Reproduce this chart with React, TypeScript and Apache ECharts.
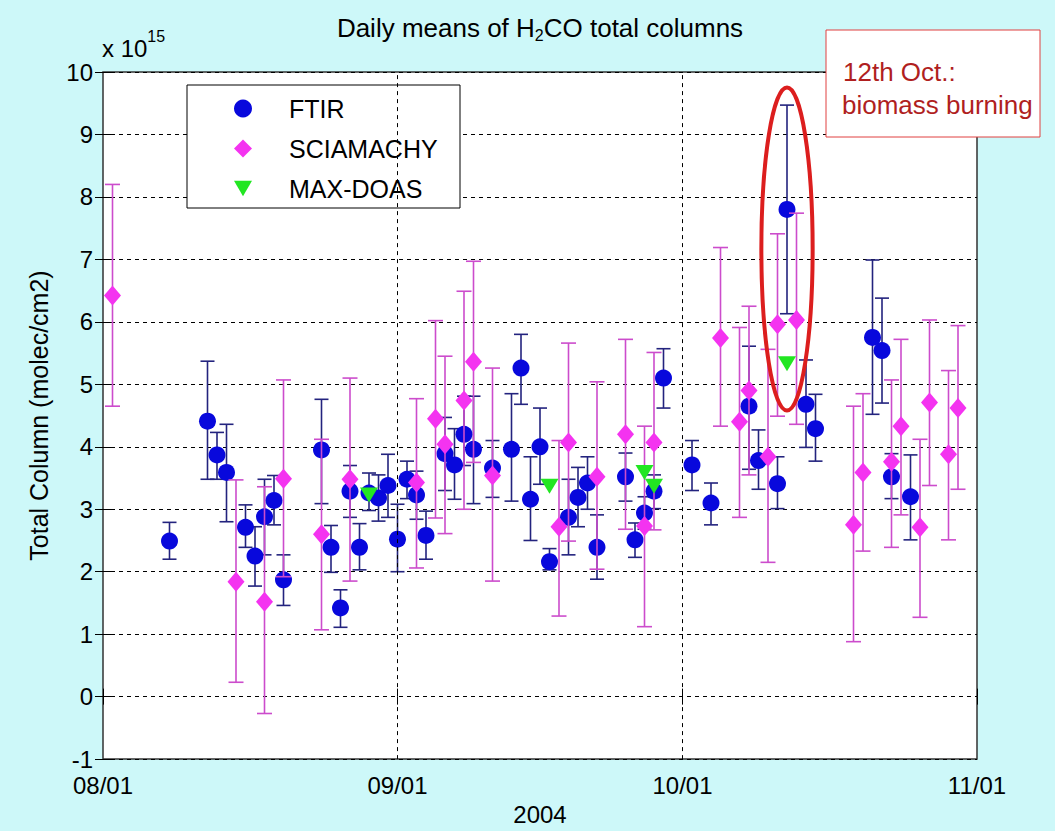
import React, { useEffect, useRef } from 'react';
import * as echarts from 'echarts';

const FONT = '"Liberation Sans", Arial, Helvetica, sans-serif';

// ---- axis / tick data ----
const monthStarts = ['08/01', '09/01', '10/01', '11/01'];
const yMin = -1;
const yMax = 10;
const yStep = 1;

// ---- FTIR (daily means, with error bars) ----
const ftirDates = ['08/08', '08/12', '08/13', '08/14', '08/16', '08/17', '08/18', '08/19', '08/20', '08/24', '08/25', '08/26', '08/27', '08/28', '08/29', '08/30', '08/31', '09/01', '09/02', '09/03', '09/04', '09/06', '09/07', '09/08', '09/09', '09/11', '09/13', '09/14', '09/15', '09/16', '09/17', '09/19', '09/20', '09/21', '09/22', '09/25', '09/26', '09/27', '09/28', '09/29', '10/02', '10/04', '10/08', '10/09', '10/11', '10/12', '10/14', '10/15', '10/21', '10/22', '10/23', '10/25'];
const ftirValues = [2.49, 4.41, 3.87, 3.59, 2.71, 2.25, 2.88, 3.14, 1.87, 3.95, 2.39, 1.42, 3.29, 2.39, 3.26, 3.18, 3.38, 2.52, 3.48, 3.23, 2.58, 3.89, 3.71, 4.2, 3.96, 3.66, 3.96, 5.26, 3.16, 4.0, 2.16, 2.87, 3.19, 3.42, 2.39, 3.52, 2.51, 2.94, 3.29, 5.1, 3.71, 3.1, 4.65, 3.78, 3.41, 7.8, 4.68, 4.29, 5.75, 5.54, 3.52, 3.2];
const ftirLow = [2.2, 3.48, 3.48, 2.8, 2.39, 1.77, 2.27, 2.75, 1.46, 3.09, 1.99, 1.11, 2.87, 2.03, 2.98, 2.81, 2.87, 2.0, 3.17, 2.84, 2.2, 3.3, 3.16, 3.7, 3.09, 3.19, 3.13, 4.68, 2.5, 3.4, 2.03, 2.27, 2.72, 3.0, 1.88, 3.13, 2.23, 2.68, 3.01, 4.62, 3.3, 2.75, 3.64, 3.32, 3.01, 6.13, 3.99, 3.77, 4.52, 4.7, 3.17, 2.51];
const ftirHigh = [2.79, 5.37, 4.23, 4.36, 3.07, 2.72, 3.48, 3.54, 2.27, 4.76, 2.74, 1.71, 3.7, 2.77, 3.58, 3.55, 3.88, 3.08, 3.77, 3.61, 2.97, 4.47, 4.29, 4.81, 4.81, 4.1, 4.85, 5.8, 3.84, 4.62, 2.37, 3.48, 3.67, 3.84, 2.91, 3.9, 2.78, 3.2, 3.55, 5.57, 4.1, 3.42, 5.61, 4.27, 3.84, 9.47, 5.39, 4.84, 6.99, 6.38, 3.89, 3.87];

// ---- SCIAMACHY ----
const sciaDates = ['08/02', '08/15', '08/18', '08/20', '08/24', '08/27', '09/03', '09/05', '09/06', '09/08', '09/09', '09/11', '09/18', '09/19', '09/22', '09/25', '09/27', '09/28', '10/05', '10/07', '10/08', '10/10', '10/11', '10/13', '10/19', '10/20', '10/23', '10/24', '10/26', '10/27', '10/29', '10/30'];
const sciaValues = [6.42, 1.84, 1.52, 3.49, 2.6, 3.48, 3.43, 4.45, 4.04, 4.74, 5.36, 3.54, 2.72, 4.07, 3.52, 4.2, 2.73, 4.07, 5.74, 4.4, 4.9, 3.84, 5.96, 6.03, 2.75, 3.59, 3.76, 4.33, 2.71, 4.71, 3.88, 4.62];
const sciaLow = [4.65, 0.23, -0.27, 1.92, 1.07, 1.85, 2.06, 2.86, 2.61, 3.0, 3.75, 1.85, 1.29, 2.49, 2.04, 2.68, 1.12, 2.67, 4.33, 2.87, 3.55, 2.15, 4.49, 4.36, 0.88, 2.33, 2.39, 2.91, 1.27, 3.38, 2.51, 3.32];
const sciaHigh = [8.2, 3.47, 3.36, 5.07, 4.12, 5.1, 4.77, 6.02, 5.45, 6.49, 6.97, 5.26, 4.1, 5.66, 5.04, 5.72, 4.33, 5.51, 7.19, 5.91, 6.25, 5.56, 7.41, 7.74, 4.65, 4.85, 5.07, 5.72, 4.12, 6.03, 5.22, 5.94];

// ---- MAX-DOAS ----
const doasDates = ['08/29', '09/17', '09/27', '09/28', '10/12'];
const doasValues = [3.23, 3.37, 3.59, 3.37, 5.33];

// ---- highlighted event (12th Oct.) ----
const eventDate = '10/12';
const eventLow = 4.58;
const eventHigh = 9.75;
const eventHalfWidthDays = 2.7;

const seriesNames = ['FTIR', 'SCIAMACHY', 'MAX-DOAS'];

function dayOf(s: string): number {
  const [m, d] = s.split('/').map(Number);
  return Math.round((Date.UTC(2004, m - 1, d) - Date.UTC(2004, 7, 1)) / 86400000);
}

const monthOffsets = monthStarts.map(dayOf);
const TRI = 'path://M0,0 L20,0 L10,17 Z';

function errorBarRenderer(color: string, capHalf: number, width: number) {
  return (params: any, api: any) => {
    const x = api.value(0);
    const lo = api.coord([x, api.value(1)]);
    const hi = api.coord([x, api.value(2)]);
    const style = { stroke: color, lineWidth: width, fill: 'none' };
    return {
      type: 'group',
      children: [
        { type: 'line', shape: { x1: lo[0], y1: lo[1], x2: hi[0], y2: hi[1] }, style },
        { type: 'line', shape: { x1: lo[0] - capHalf, y1: lo[1], x2: lo[0] + capHalf, y2: lo[1] }, style },
        { type: 'line', shape: { x1: hi[0] - capHalf, y1: hi[1], x2: hi[0] + capHalf, y2: hi[1] }, style },
      ],
    };
  };
}

export default function App() {
  const ref = useRef<HTMLDivElement>(null);

  useEffect(() => {
    document.body.style.margin = '0';
    if (!ref.current) return;
    const chart = echarts.init(ref.current, undefined, { renderer: 'svg' });

    const ftirErr = ftirDates.map((d, i) => [dayOf(d), ftirLow[i], ftirHigh[i]]);
    const ftirPts = ftirDates.map((d, i) => [dayOf(d), ftirValues[i]]);
    const sciaErr = sciaDates.map((d, i) => [dayOf(d), sciaLow[i], sciaHigh[i]]);
    const sciaPts = sciaDates.map((d, i) => [dayOf(d), sciaValues[i]]);
    const doasPts = doasDates.map((d, i) => [dayOf(d), doasValues[i]]);
    const eventData = [[dayOf(eventDate), eventLow, eventHigh, eventHalfWidthDays]];

    const xLabel = (v: number) => {
      const i = monthOffsets.indexOf(Math.round(v));
      return i >= 0 ? monthStarts[i] : '';
    };

    const gridDash = { type: [4, 4] as any, color: '#000', width: 1 };

    const option: any = {
      animation: false,
      backgroundColor: '#cdf8f9',
      textStyle: { fontFamily: FONT },
      grid: {
        left: 103, right: 78, top: 72, bottom: 71,
        show: true, backgroundColor: '#ffffff', borderColor: '#333', borderWidth: 1.5,
      },
      xAxis: [
        {
          type: 'value', min: monthOffsets[0], max: monthOffsets[monthOffsets.length - 1],
          position: 'bottom',
          name: '2004', nameLocation: 'middle', nameGap: 37,
          nameTextStyle: { fontSize: 24, color: '#000', fontFamily: FONT },
          axisLine: { show: false },
          axisTick: { show: true, inside: true, length: 8, customValues: monthOffsets, lineStyle: { color: '#000' } },
          axisLabel: { customValues: monthOffsets, formatter: xLabel, fontSize: 24, lineHeight: 22, color: '#000', margin: 15, fontFamily: FONT },
          splitLine: { show: false },
        },
        {
          type: 'value', min: monthOffsets[0], max: monthOffsets[monthOffsets.length - 1],
          position: 'top',
          axisLine: { show: false },
          axisTick: { show: true, inside: true, length: 8, customValues: monthOffsets, lineStyle: { color: '#000' } },
          axisLabel: { show: false },
          splitLine: { show: false },
        },
      ],
      yAxis: [
        {
          type: 'value', min: yMin, max: yMax, interval: yStep, position: 'left',
          name: 'Total Column (molec/cm2)', nameLocation: 'middle', nameGap: 52,
          nameTextStyle: { fontSize: 25, color: '#000', fontFamily: FONT },
          axisLine: { show: false },
          axisTick: { show: true, inside: true, length: 8, lineStyle: { color: '#000' } },
          axisLabel: { fontSize: 24, lineHeight: 20, color: '#000', margin: 10, fontFamily: FONT },
          splitLine: { show: true, lineStyle: gridDash },
        },
        {
          type: 'value', min: yMin, max: yMax, interval: yStep, position: 'right',
          axisLine: { show: false },
          axisTick: { show: true, inside: true, length: 8, lineStyle: { color: '#000' } },
          axisLabel: { show: false },
          splitLine: { show: false },
        },
      ],
      legend: {
        data: [
          { name: seriesNames[0], icon: 'circle' },
          { name: seriesNames[1], icon: 'diamond' },
          { name: seriesNames[2], icon: TRI },
        ],
        orient: 'vertical', left: 234, top: 96, padding: 0,
        itemWidth: 18, itemHeight: 18, itemGap: 15, selectedMode: false,
        textStyle: { fontSize: 25, color: '#000', fontFamily: FONT, lineHeight: 24, padding: [0, 0, 0, 32] },
        z: 6,
      },
      graphic: [
        { type: 'rect', z: 5, shape: { x: 187, y: 85, width: 273, height: 123 }, style: { fill: '#fff', stroke: '#000', lineWidth: 1 } },
        {
          type: 'text', z: 5, x: 540, y: 28,
          style: {
            text: '{n|Daily means of H}{s|2}{n|CO total columns}',
            textAlign: 'center', textVerticalAlign: 'middle', fill: '#000', fontFamily: FONT,
            rich: {
              n: { fontSize: 26, lineHeight: 30, verticalAlign: 'middle', fontFamily: FONT },
              s: { fontSize: 16, lineHeight: 16, verticalAlign: 'bottom', fontFamily: FONT },
            },
          },
        },
        {
          type: 'text', z: 5, x: 102, y: 44,
          style: {
            text: '{n|x 10}{p|15}', textAlign: 'left', textVerticalAlign: 'middle', fill: '#000', fontFamily: FONT,
            rich: {
              n: { fontSize: 24, lineHeight: 32, verticalAlign: 'bottom', fontFamily: FONT },
              p: { fontSize: 16, lineHeight: 16, verticalAlign: 'top', fontFamily: FONT },
            },
          },
        },
        { type: 'rect', z: 8, shape: { x: 826, y: 30, width: 214, height: 107 }, style: { fill: '#fff', stroke: '#e04040', lineWidth: 1 } },
        { type: 'text', z: 9, x: 843, y: 72, style: { text: '12th Oct.:', fill: '#b01f1f', fontSize: 26, fontFamily: FONT, textVerticalAlign: 'middle' } },
        { type: 'text', z: 9, x: 842, y: 105, style: { text: 'biomass burning', fill: '#b01f1f', fontSize: 26, fontFamily: FONT, textVerticalAlign: 'middle' } },
      ],
      series: [
        {
          type: 'scatter', name: 'gridlines', data: [], z: 1, silent: true,
          markLine: {
            silent: true, symbol: 'none', label: { show: false },
            lineStyle: gridDash,
            data: monthOffsets.slice(1, -1).map((v) => ({ xAxis: v })),
          },
        },
        {
          type: 'custom', name: 'FTIR err', data: ftirErr, z: 2, silent: true,
          encode: { x: 0, y: [1, 2] },
          renderItem: errorBarRenderer('#23237e', 7, 1.6),
        },
        {
          type: 'scatter', name: seriesNames[0], data: ftirPts, z: 3,
          symbol: 'circle', symbolSize: 17,
          itemStyle: { color: '#0808dc', opacity: 1 },
        },
        {
          type: 'custom', name: 'SCIA err', data: sciaErr, z: 4, silent: true,
          encode: { x: 0, y: [1, 2] },
          renderItem: errorBarRenderer('#cc4ccc', 7.5, 1.6),
        },
        {
          type: 'scatter', name: seriesNames[1], data: sciaPts, z: 5,
          symbol: 'diamond', symbolSize: [17, 20],
          itemStyle: { color: '#f433f0', opacity: 1 },
        },
        {
          type: 'scatter', name: seriesNames[2], data: doasPts, z: 6,
          symbol: TRI, symbolSize: [18, 15],
          itemStyle: { color: '#22e622', opacity: 1 },
        },
        {
          type: 'custom', name: 'event', data: eventData, z: 7, silent: true,
          encode: { x: 0, y: [1, 2] },
          renderItem: (params: any, api: any) => {
            const x = api.value(0);
            const lo = api.coord([x, api.value(1)]);
            const hi = api.coord([x, api.value(2)]);
            const side = api.coord([x + api.value(3), api.value(1)]);
            return {
              type: 'ellipse',
              shape: { cx: lo[0], cy: (lo[1] + hi[1]) / 2, rx: side[0] - lo[0], ry: (lo[1] - hi[1]) / 2 },
              style: { fill: 'none', stroke: '#dc1e1e', lineWidth: 4 },
            };
          },
        },
      ],
    };

    chart.setOption(option);
    return () => chart.dispose();
  }, []);

  return <div ref={ref} style={{ width: 1055, height: 831 }} />;
}
